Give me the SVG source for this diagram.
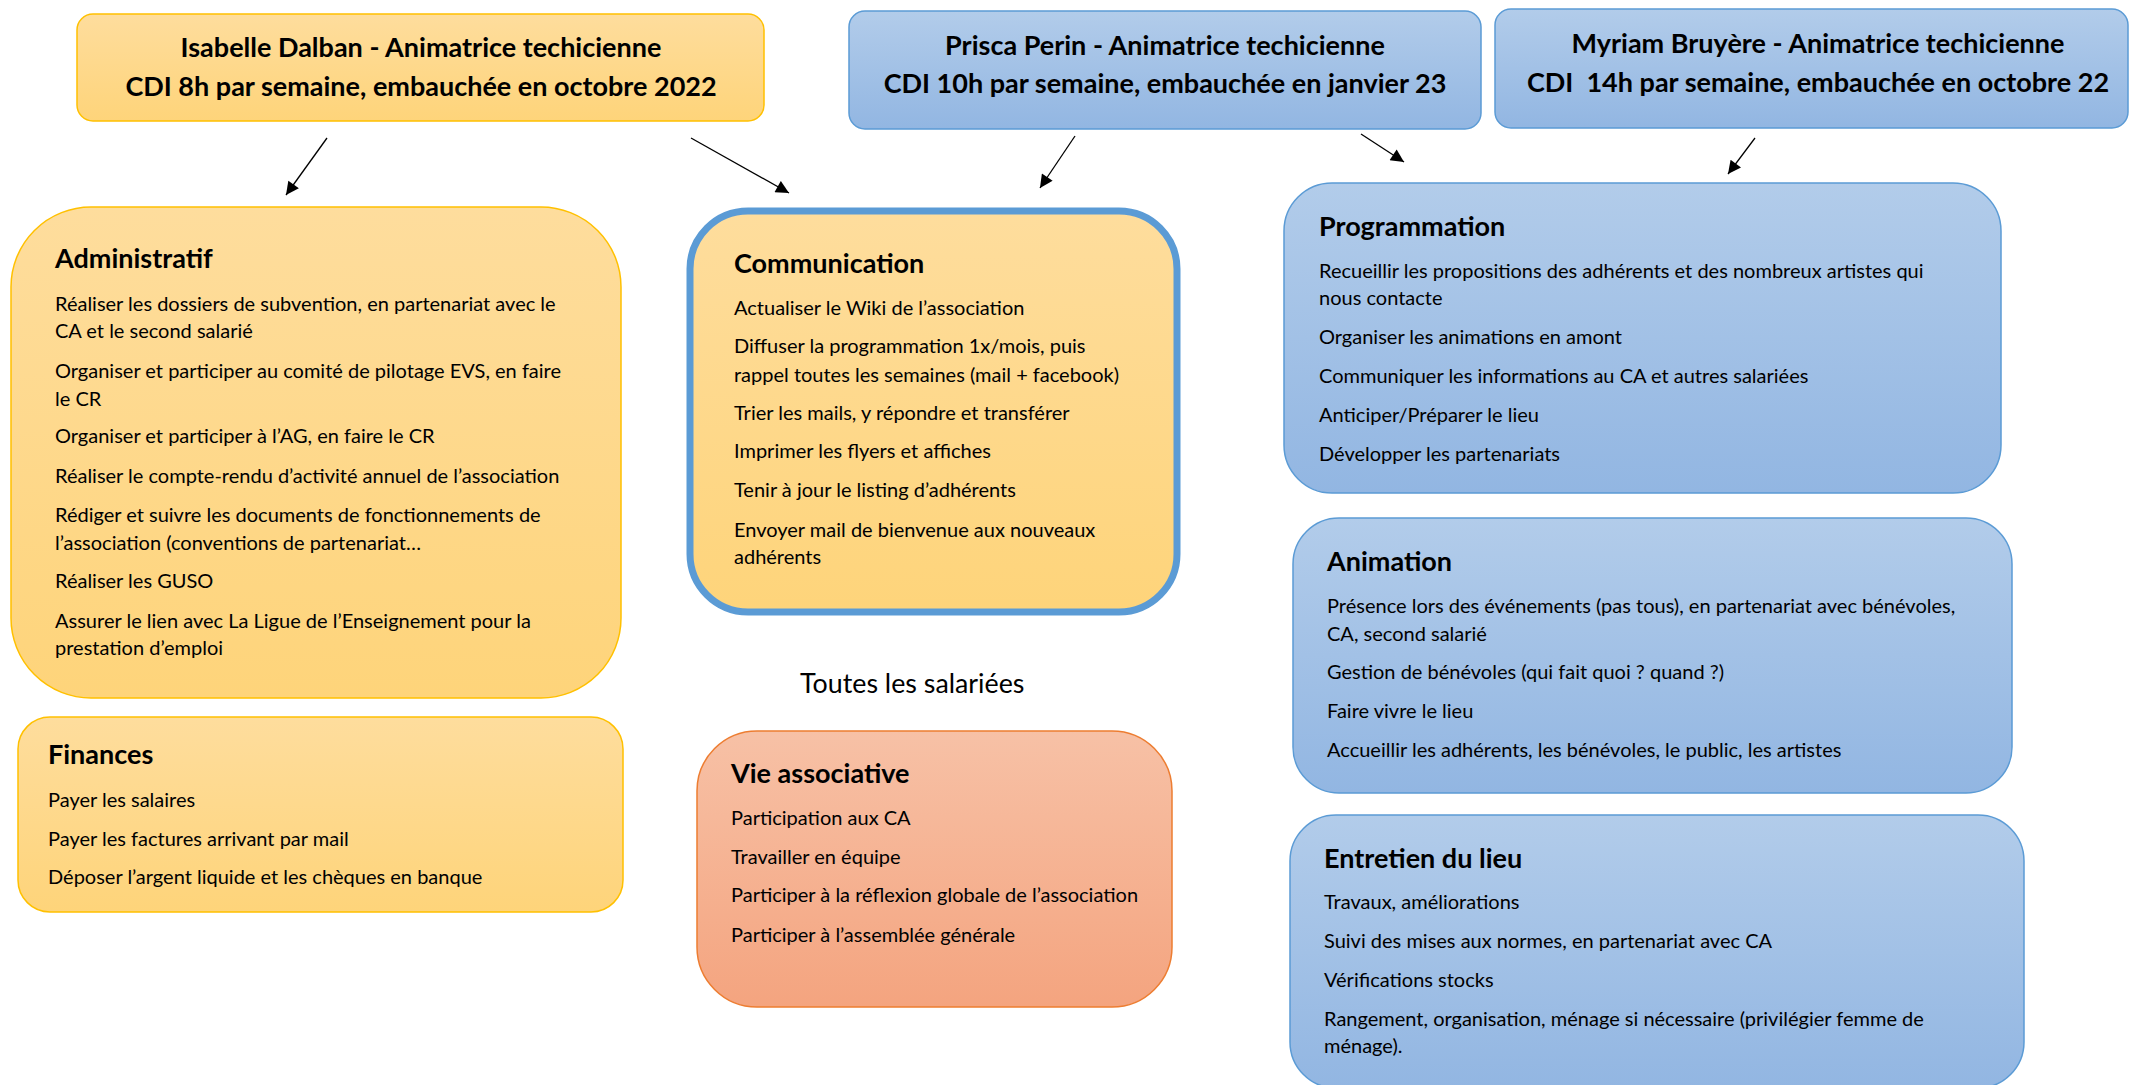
<svg xmlns="http://www.w3.org/2000/svg" width="2129" height="1085" viewBox="0 0 2129 1085">
<defs>
<linearGradient id="gGold" x1="0" y1="0" x2="0" y2="1"><stop offset="0" stop-color="#FEDD9D"/><stop offset="1" stop-color="#FED47A"/></linearGradient>
<linearGradient id="gBlue" x1="0" y1="0" x2="0" y2="1"><stop offset="0" stop-color="#B2CCEA"/><stop offset="1" stop-color="#92B6E2"/></linearGradient>
<linearGradient id="gOrange" x1="0" y1="0" x2="0" y2="1"><stop offset="0" stop-color="#F7C1A6"/><stop offset="1" stop-color="#F4A47F"/></linearGradient>
<marker id="ah" viewBox="0 0 10 10" refX="10" refY="5" markerWidth="15" markerHeight="13" markerUnits="userSpaceOnUse" orient="auto"><path d="M0,0 L10,5 L0,10 z" fill="#000"/></marker>
</defs>
<style>
text{font-family:Lato,"Open Sans","Liberation Sans",sans-serif;fill:#000}
.gold{fill:url(#gGold);stroke:#FFC000;stroke-width:1.5}
.blue{fill:url(#gBlue);stroke:#5B9BD5;stroke-width:1.5}
.orange{fill:url(#gOrange);stroke:#ED7D31;stroke-width:1.5}
.hd{font-size:27px;font-weight:bold}
.tt{font-size:27px;font-weight:bold;text-anchor:middle}
.bd{font-size:20px}
.conn{stroke:#000;stroke-width:1.3;fill:none;marker-end:url(#ah)}
</style>
<rect width="2129" height="1085" fill="#fff"/>

<g id="isabelle">
<rect class="gold" x="77" y="14" width="687" height="107" rx="16"/>
<text class="tt" x="421" y="57">Isabelle Dalban - Animatrice techicienne</text>
<text class="tt" x="421" y="96">CDI 8h par semaine, embauchée en octobre 2022</text>
</g>
<g id="prisca">
<rect class="blue" x="849" y="11" width="632" height="118" rx="16"/>
<text class="tt" x="1165" y="55">Prisca Perin - Animatrice techicienne</text>
<text class="tt" x="1165" y="93">CDI 10h par semaine, embauchée en janvier 23</text>
</g>
<g id="myriam">
<rect class="blue" x="1495" y="9" width="633" height="119" rx="16"/>
<text class="tt" x="1818" y="53">Myriam Bruyère - Animatrice techicienne</text>
<text class="tt" x="1818" y="92" xml:space="preserve">CDI  14h par semaine, embauchée en octobre 22</text>
</g>

<g id="administratif">
<rect class="gold" x="11" y="207" width="610" height="491" rx="80"/>
<text class="hd" x="55" y="268">Administratif</text>
<text class="bd" x="55" y="311">Réaliser les dossiers de subvention, en partenariat avec le</text>
<text class="bd" x="55" y="338">CA et le second salarié</text>
<text class="bd" x="55" y="378">Organiser et participer au comité de pilotage EVS, en faire</text>
<text class="bd" x="55" y="406">le CR</text>
<text class="bd" x="55" y="443">Organiser et participer à l’AG, en faire le CR</text>
<text class="bd" x="55" y="483">Réaliser le compte-rendu d’activité annuel de l’association</text>
<text class="bd" x="55" y="522">Rédiger et suivre les documents de fonctionnements de</text>
<text class="bd" x="55" y="550">l’association (conventions de partenariat…</text>
<text class="bd" x="55" y="588">Réaliser les GUSO</text>
<text class="bd" x="55" y="628">Assurer le lien avec La Ligue de l’Enseignement pour la</text>
<text class="bd" x="55" y="655">prestation d’emploi</text>
</g>

<g id="finances">
<rect class="gold" x="18" y="717" width="605" height="195" rx="32"/>
<text class="hd" x="48" y="764">Finances</text>
<text class="bd" x="48" y="807">Payer les salaires</text>
<text class="bd" x="48" y="846">Payer les factures arrivant par mail</text>
<text class="bd" x="48" y="884">Déposer l’argent liquide et les chèques en banque</text>
</g>

<g id="communication">
<rect x="690" y="211" width="487" height="401" rx="58" fill="url(#gGold)" stroke="#5B9BD5" stroke-width="7"/>
<text class="hd" x="734" y="273">Communication</text>
<text class="bd" x="734" y="315">Actualiser le Wiki de l’association</text>
<text class="bd" x="734" y="353">Diffuser la programmation 1x/mois, puis</text>
<text class="bd" x="734" y="382">rappel toutes les semaines (mail + facebook)</text>
<text class="bd" x="734" y="420">Trier les mails, y répondre et transférer</text>
<text class="bd" x="734" y="458">Imprimer les flyers et affiches</text>
<text class="bd" x="734" y="497">Tenir à jour le listing d’adhérents</text>
<text class="bd" x="734" y="537">Envoyer mail de bienvenue aux nouveaux</text>
<text class="bd" x="734" y="564">adhérents</text>
</g>

<g id="toutes">
<text x="800" y="693" style="font-size:26.8px">Toutes les salariées</text>
</g>

<g id="vie-associative">
<rect class="orange" x="697" y="731" width="475" height="276" rx="60"/>
<text class="hd" x="731" y="783">Vie associative</text>
<text class="bd" x="731" y="825">Participation aux CA</text>
<text class="bd" x="731" y="864">Travailler en équipe</text>
<text class="bd" x="731" y="902">Participer à la réflexion globale de l’association</text>
<text class="bd" x="731" y="942">Participer à l’assemblée générale</text>
</g>

<g id="programmation">
<rect class="blue" x="1284" y="183" width="717" height="310" rx="48"/>
<text class="hd" x="1319" y="236">Programmation</text>
<text class="bd" x="1319" y="278">Recueillir les propositions des adhérents et des nombreux artistes qui</text>
<text class="bd" x="1319" y="305">nous contacte</text>
<text class="bd" x="1319" y="344">Organiser les animations en amont</text>
<text class="bd" x="1319" y="383">Communiquer les informations au CA et autres salariées</text>
<text class="bd" x="1319" y="422">Anticiper/Préparer le lieu</text>
<text class="bd" x="1319" y="461">Développer les partenariats</text>
</g>

<g id="animation">
<rect class="blue" x="1293" y="518" width="719" height="275" rx="46"/>
<text class="hd" x="1327" y="571">Animation</text>
<text class="bd" x="1327" y="613">Présence lors des événements (pas tous), en partenariat avec bénévoles,</text>
<text class="bd" x="1327" y="641">CA, second salarié</text>
<text class="bd" x="1327" y="679">Gestion de bénévoles (qui fait quoi ? quand ?)</text>
<text class="bd" x="1327" y="718">Faire vivre le lieu</text>
<text class="bd" x="1327" y="757">Accueillir les adhérents, les bénévoles, le public, les artistes</text>
</g>

<g id="entretien">
<rect class="blue" x="1290" y="815" width="734" height="273" rx="46"/>
<text class="hd" x="1324" y="868">Entretien du lieu</text>
<text class="bd" x="1324" y="909">Travaux, améliorations</text>
<text class="bd" x="1324" y="948">Suivi des mises aux normes, en partenariat avec CA</text>
<text class="bd" x="1324" y="987">Vérifications stocks</text>
<text class="bd" x="1324" y="1026">Rangement, organisation, ménage si nécessaire (privilégier femme de</text>
<text class="bd" x="1324" y="1053">ménage).</text>
</g>

<g id="connectors">
<line class="conn" x1="327" y1="138" x2="286" y2="195"/>
<line class="conn" x1="691" y1="138" x2="789" y2="193"/>
<line class="conn" x1="1075" y1="136" x2="1040" y2="188"/>
<line class="conn" x1="1361" y1="134" x2="1404" y2="162"/>
<line class="conn" x1="1755" y1="138" x2="1728" y2="174"/>
</g>
</svg>
